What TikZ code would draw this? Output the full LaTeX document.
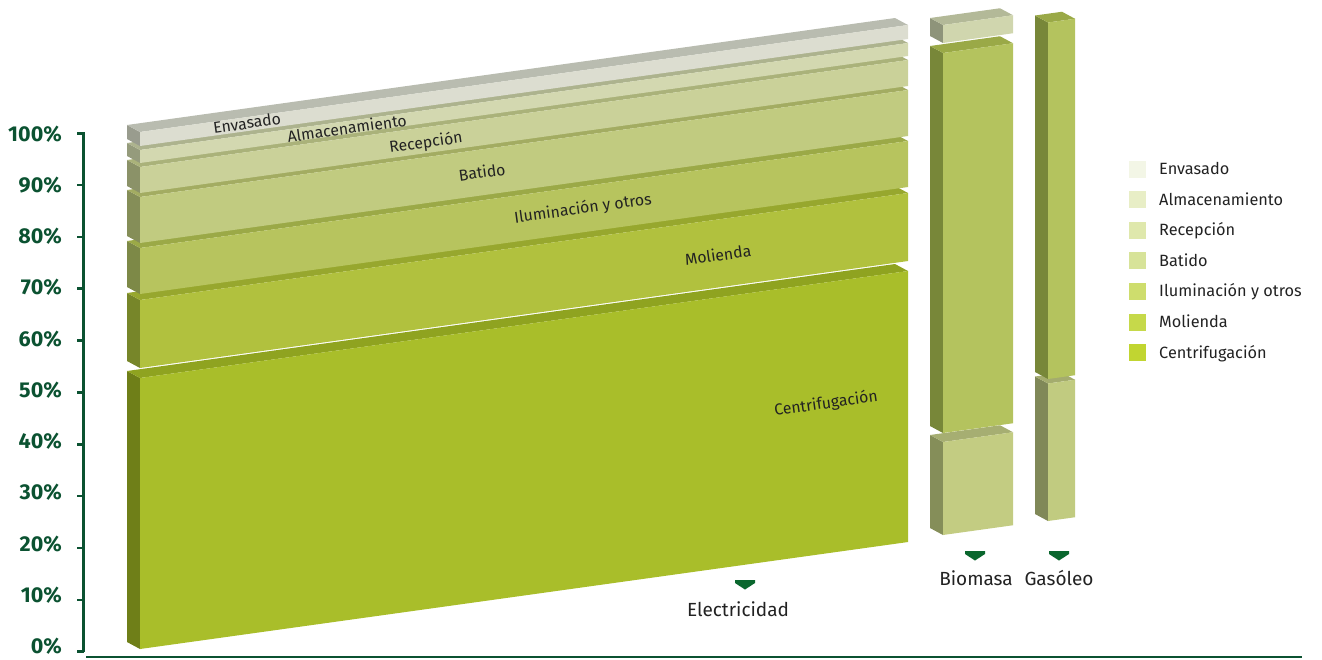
\documentclass[tikz,border=0pt]{standalone}
\usepackage{fontspec}
\setmainfont{Fira Sans}
\newfontfamily\axisfont{Fira Sans}
\begin{document}
% 1 unit = 1pt, y grows downward
\begin{tikzpicture}[x=1pt,y=-1pt,
  axisline/.style={draw=axisgreen,line width=2.6pt},
  ticklabel/.style={anchor=base east,text=axisgreen,font=\axisfont\bfseries\fontsize{21.5}{22}\selectfont,inner sep=0pt},
  barlabel/.style={text=labelgrey,font=\fontsize{15.8}{17}\selectfont,rotate=7.93,inner sep=0pt},
  srclabel/.style={anchor=base,text=labelgrey,font=\fontsize{19}{20}\selectfont,inner sep=0pt},
  legtext/.style={anchor=base west,text=labelgrey,font=\fontsize{16.3}{17}\selectfont,inner sep=0pt},
  downarrow/.style={fill=arrowgreen}]
\definecolor{axisgreen}{HTML}{0B5231}
\definecolor{arrowgreen}{HTML}{0A672E}
\definecolor{labelgrey}{HTML}{222222}
% a slab: front face, top face and left side face
% #1 left x, #2 right x, #3 top y at left, #4 bottom y at left,
% #5 front, #6 top, #7 side (hex colours)
\newcommand\drawslab[7]{%
  \definecolor{slabfront}{HTML}{#5}%
  \definecolor{slabtop}{HTML}{#6}%
  \definecolor{slabside}{HTML}{#7}%
  \pgfmathsetmacro\slabrise{0.1393*(#2-#1)}%
  \fill[slabside] (#1,#3) -- (#1-13,#3-7) -- (#1-13,#4-7) -- (#1,#4) -- cycle;
  \fill[slabtop] (#1,#3) -- (#1-13,#3-7) -- (#2-13,#3-\slabrise-7) -- (#2,#3-\slabrise) -- cycle;
  \fill[slabfront] (#1,#3) -- (#2,#3-\slabrise) -- (#2,#4-\slabrise) -- (#1,#4) -- cycle;
}
\newcommand\downmark[2]{%
  \fill[downarrow] (#1-10,#2) -- (#1+10,#2) -- (#1+10,#2+3) -- (#1,#2+9.5) -- (#1-10,#2+3) -- cycle;
}
\useasboundingbox (0,0) rectangle (1322,659);

% axis
\draw[axisline] (83.5,132) -- (83.5,652);
\foreach \p in {0,10,...,100}{
  \pgfmathsetmacro\ty{651.7-5.185*\p}
  \pgfmathsetmacro\by{653.5-5.123*\p}
  \draw[axisline] (77,\ty) -- (83.5,\ty);
  \node[ticklabel] at (62,\by) {\p\%};
}
\draw[draw=axisgreen,line width=2.3pt] (86,657.3) -- (1302,657.3);

% Electricidad: stacked slabs, bottom first
\drawslab{140}{908}{378}{649}{A9BE2A}{8FA320}{6F7F18}
\drawslab{140}{908}{300}{368}{B1C13E}{97A72E}{778629}
\drawslab{140}{908}{248}{294}{B7C45E}{9BA947}{7D8947}
\drawslab{140}{908}{197}{243}{C1CB80}{A3AC62}{858E58}
\drawslab{140}{908}{167}{193}{CAD199}{AAB27A}{8B9268}
\drawslab{140}{908}{150}{163}{D3D8B0}{ADB38E}{959B7C}
\drawslab{140}{908}{132}{146}{DCDDD0}{B9BCB0}{999C8E}

% Biomasa
\drawslab{943}{1013}{442}{535}{C3CC82}{A6AE72}{858E59}
\drawslab{943}{1013}{53}{433}{B4C35E}{9AA947}{788739}
\drawslab{943}{1013}{25}{43}{D0D6AE}{B3B998}{8E947A}

% Gasoleo
\drawslab{1048}{1075}{383.5}{521}{C1CB80}{A4AC6E}{808858}
\drawslab{1048}{1075}{22.5}{379}{B4C35E}{9AA947}{788739}

% labels on the slabs
\node[barlabel] (lenv) at (247,123) {Envasado};
\node[barlabel] (lalm) at (347,128) {Almacenamiento};
\node[barlabel] (lrec) at (426,143) {Recepción};
\node[barlabel] (lbat) at (482,172) {Batido};
\node[barlabel] (lilu) at (583,209) {Iluminación y otros};
\node[barlabel] (lmol) at (718,255) {Molienda};
\node[barlabel] (lcen) at (826,404) {Centrifugación};

% energy sources
\downmark{745}{580}
\downmark{975}{551}
\downmark{1059}{551}
\node[srclabel] (elec) at (738,616.5) {Electricidad};
\node[srclabel] (biom) at (976,585) {Biomasa};
\node[srclabel] (gaso) at (1059,585) {Gasóleo};

% legend
\foreach \name/\col [count=\i from 0] in {Envasado/F3F6E6,Almacenamiento/E8EEC6,Recepción/DFE8AC,Batido/D7E399,Iluminación y otros/CEDD6D,Molienda/C6D94A,Centrifugación/C1D531}{
  \pgfmathsetmacro\ly{169+30.6*\i}
  \definecolor{legcol}{HTML}{\col}
  \fill[legcol] (1128.5,\ly-8.5) rectangle (1146,\ly+8.5);
  \node[legtext] at (1159,\ly+5.5) {\name};
}
\end{tikzpicture}
\end{document}
